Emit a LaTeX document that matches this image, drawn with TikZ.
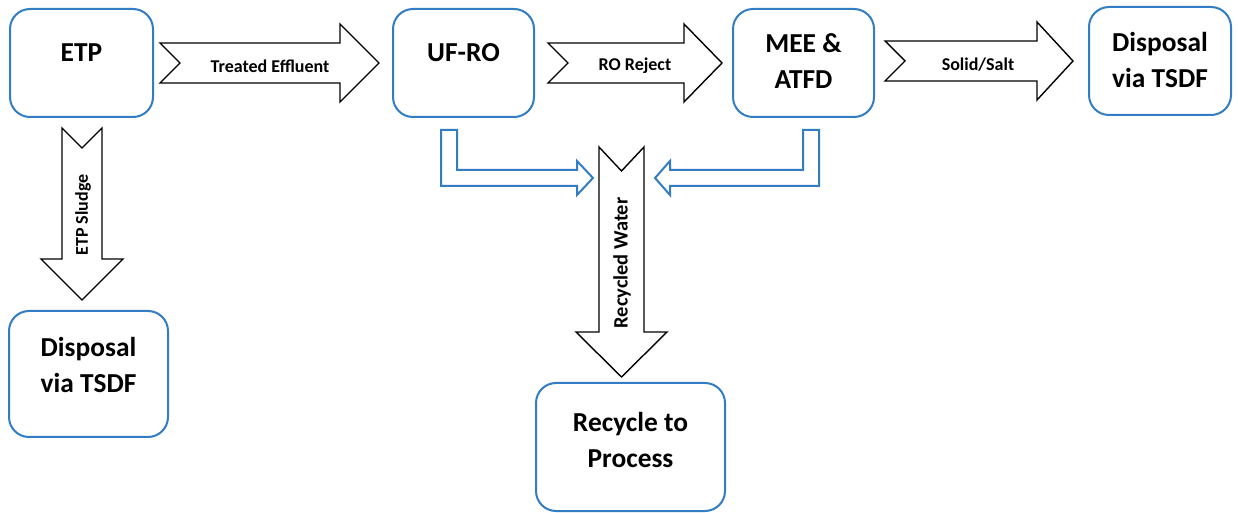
\documentclass[tikz,border=0pt]{standalone}
\usepackage{fontspec}
\setmainfont{Carlito}
\usetikzlibrary{positioning,calc}
\definecolor{boxBlue}{RGB}{50,125,195}
\tikzset{
  stage/.style={
    draw=boxBlue,
    line width=1pt,
    rounded corners=10pt,
    inner sep=0pt
  },
  stagetext/.style={
    font=\bfseries\fontsize{13.7}{18}\selectfont,
    align=center,
    inner sep=0pt
  },
  flowtext/.style={
    font=\bfseries\fontsize{9}{10}\selectfont,
    inner sep=0pt
  },
  bigarrow/.style={draw=black, line width=0.7pt, fill=white},
  bluearrow/.style={draw=boxBlue, line width=1pt, fill=white}
}

\begin{document}
\begin{tikzpicture}[x=0.5pt, y=-0.5pt]
  \useasboundingbox[fill=white] (0,0) rectangle (1238,513);

  % process stages
  \node[stage, minimum width=71.5pt, minimum height=54pt] (etp) at (81.5,63) {};
  \node[stage, minimum width=70.5pt, minimum height=54pt] (ufro) at (463.5,63) {};
  \node[stage, minimum width=70.5pt, minimum height=54pt] (mee) at (803.5,63) {};
  \node[stage, minimum width=71pt, minimum height=54pt] (dispR) at (1160,61) {};
  \node[stage, minimum width=79.5pt, minimum height=63pt] (dispL) at (88.5,374) {};
  \node[stage, minimum width=94.5pt, minimum height=64pt] (recyc) at (630.5,447) {};

  \node[stagetext] (etpT) at ([yshift=5pt]etp.center) {ETP};
  \node[stagetext] (ufroT) at ([yshift=5pt]ufro.center) {UF-RO};
  \node[stagetext] (meeT) at ([yshift=1pt]mee.center) {MEE \&\\ATFD};
  \node[stagetext] (dispRT) at ([yshift=0.5pt]dispR.center) {Disposal\\via TSDF};
  \node[stagetext] (dispLT) at ([yshift=4.5pt]dispL.center) {Disposal\\via TSDF};
  \node[stagetext] (recycT) at ([yshift=3.5pt]recyc.center) {Recycle to\\Process};

  % horizontal flows
  \foreach \xa/\xb/\xc/\ym in {160/340/379/63, 548/684/722/63, 885/1037/1073/61}{
    \draw[bigarrow] (\xa,\ym-20) -- (\xb,\ym-20) -- (\xb,\ym-39) -- (\xc,\ym)
      -- (\xb,\ym+39) -- (\xb,\ym+20) -- (\xa,\ym+20) -- (\xa+20,\ym) -- cycle;
  }

  % vertical flows
  \foreach \xm/\sw/\hw/\ya/\nd/\yb/\yc in {82/20/41/128/20/259/300, 621.5/22.5/45.5/147/24/332/377}{
    \draw[bigarrow] (\xm-\sw,\ya) -- (\xm,\ya+\nd) -- (\xm+\sw,\ya) -- (\xm+\sw,\yb)
      -- (\xm+\hw,\yb) -- (\xm,\yc) -- (\xm-\hw,\yb) -- (\xm-\sw,\yb) -- cycle;
  }

  % side returns
  \draw[bluearrow] (441,130) -- (457,130) -- (457,170) -- (577,170) -- (577,161)
    -- (593,178) -- (577,195) -- (577,186) -- (441,186) -- cycle;
  \draw[bluearrow] (819,130) -- (803,130) -- (803,170) -- (670,170) -- (670,161)
    -- (655,178) -- (670,195) -- (670,186) -- (819,186) -- cycle;

  \node[flowtext] (te) at (270,66) {Treated Effluent};
  \node[flowtext] (ror) at (635,66) {RO Reject};
  \node[flowtext] (ss) at (978,65) {Solid/Salt};
  \node[flowtext, rotate=90] (sl) at (83,215) {ETP Sludge};
  \node[flowtext, rotate=90, font=\bfseries\fontsize{10.2}{11}\selectfont] (rw) at (622,263) {Recycled Water};
\end{tikzpicture}
\end{document}
